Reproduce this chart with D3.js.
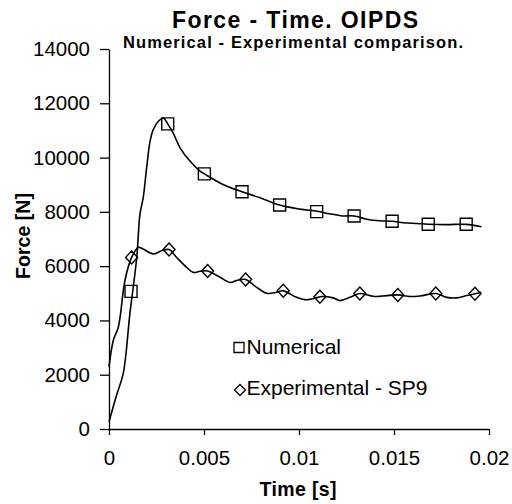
<!DOCTYPE html>
<html>
<head>
<meta charset="utf-8">
<script src="https://cdn.jsdelivr.net/npm/d3@7"></script>
<style>
  body { margin: 0; background: #fff; }
  text { font-family: "Liberation Sans", Arial, sans-serif; fill: #000; }
</style>
</head>
<body>
<div id="chart"></div>
<script>
// time in ms, force in N
var numCurveT = [0, 0.4, 0.75, 1.1, 1.46, 1.63, 1.8, 1.98, 2.16, 2.33, 2.6, 2.86, 3.09, 3.38, 3.74, 4.26, 4.79, 5.02, 6.0, 7.0, 7.95, 8.98, 10.05, 10.96, 11.6, 12.3, 12.9, 13.56, 14.26, 14.9, 15.5, 16.2, 16.8, 17.77, 18.8, 19.6]
var numCurveF = [270, 1250, 2050, 4250, 6320, 7920, 8520, 9620, 10600, 11030, 11340, 11460, 11240, 10900, 10360, 9870, 9500, 9400, 9010, 8740, 8520, 8250, 8100, 8020, 7930, 7850, 7850, 7730, 7670, 7655, 7600, 7570, 7545, 7530, 7540, 7450]

var expCurveT = [0, 0.23, 0.49, 0.84, 1.19, 1.54, 1.8, 2.33, 2.77, 3.16, 3.56, 4.09, 4.44, 4.79, 5.19, 5.84, 6.37, 6.72, 7.19, 7.77, 8.3, 8.83, 9.17, 9.88, 10.4, 11.0, 11.17, 11.8, 12.16, 12.68, 13.2, 13.74, 14.09, 14.6, 15.2, 15.84, 16.37, 17.2, 17.77, 18.3, 18.83, 19.26, 19.6]
var expCurveF = [2290, 3270, 3750, 5470, 6320, 6690, 6630, 6450, 6570, 6610, 6320, 5950, 5770, 5810, 5820, 5590, 5400, 5470, 5510, 5220, 5000, 5040, 5090, 4850, 4760, 4850, 4880, 4830, 4730, 4850, 4990, 4915, 4880, 4915, 4940, 4880, 4900, 4990, 4850, 4830, 4915, 4980, 5040]

var numMarkT = [1.16, 3.09, 5.02, 7.0, 8.98, 10.93, 12.9, 14.9, 16.8, 18.8]
var numMarkF = [5070, 11240, 9400, 8740, 8250, 8010, 7850, 7655, 7545, 7545]

var expMarkT = [1.19, 3.16, 5.19, 7.19, 9.17, 11.1, 13.2, 15.2, 17.2, 19.26]
var expMarkF = [6320, 6610, 5820, 5510, 5090, 4870, 4990, 4940, 4990, 4980]

var xTicks = [0, 0.005, 0.01, 0.015, 0.02]
var xTickLabels = ["0", "0.005", "0.01", "0.015", "0.02"]
var yTicks = [0, 2000, 4000, 6000, 8000, 10000, 12000, 14000]

var legendLabels = ["Numerical", "Experimental - SP9"]

function pairs(ts, fs) {
    return ts.map(function (t, i) { return { x: t / 1000, y: fs[i] } })
}

var margin = { top: 49, right: 23, bottom: 75, left: 109 },
    width = 512 - margin.left - margin.right,
    height = 504 - margin.top - margin.bottom

var root = d3.select("#chart")
    .append("svg")
    .attr("width", 512)
    .attr("height", 504)

var svg = root.append("g")
    .attr("transform", "translate(" + margin.left + "," + margin.top + ")")

var x = d3.scaleLinear().domain([0, 0.02]).range([0, width])
var y = d3.scaleLinear().domain([0, 14000]).range([height, 0])

// axes
var yAxis = d3.axisLeft(y).tickValues(yTicks).tickFormat(d3.format("d"))
    .tickSize(9).tickSizeOuter(0).tickPadding(10)
var xAxis = d3.axisBottom(x).tickValues(xTicks)
    .tickFormat(function (d, i) { return xTickLabels[i] })
    .tickSize(6).tickSizeOuter(0).tickPadding(15)

var gy = svg.append("g").call(yAxis)
var gx = svg.append("g").attr("transform", "translate(0," + height + ")").call(xAxis)

root.selectAll(".domain, .tick line").attr("stroke", "#000").attr("stroke-width", 1.3)
root.selectAll(".tick text")
    .style("font-family", '"Liberation Sans", Arial, sans-serif')
    .style("font-size", "20.5px")
    .attr("fill", "#000")

// curves
var line = d3.line()
    .x(function (d) { return x(d.x) })
    .y(function (d) { return y(d.y) })
    .curve(d3.curveCatmullRom.alpha(0.5))

svg.append("path")
    .datum(pairs(numCurveT, numCurveF))
    .attr("d", line)
    .attr("fill", "none")
    .attr("stroke", "#000")
    .attr("stroke-width", 1.6)

svg.append("path")
    .datum(pairs(expCurveT, expCurveF))
    .attr("d", line)
    .attr("fill", "none")
    .attr("stroke", "#000")
    .attr("stroke-width", 1.6)

// markers
function square(s) { return "M" + (-s) + "," + (-s) + "h" + (2 * s) + "v" + (2 * s) + "h" + (-2 * s) + "Z" }
function diamond(w, h) { return "M0," + (-h) + "L" + w + ",0L0," + h + "L" + (-w) + ",0Z" }

svg.selectAll(".sq")
    .data(pairs(numMarkT, numMarkF))
    .enter().append("path")
    .attr("class", "sq")
    .attr("transform", function (d) { return "translate(" + x(d.x) + "," + y(d.y) + ")" })
    .attr("d", square(6))
    .attr("fill", "none")
    .attr("stroke", "#000")
    .attr("stroke-width", 1.4)

svg.selectAll(".dm")
    .data(pairs(expMarkT, expMarkF))
    .enter().append("path")
    .attr("class", "dm")
    .attr("transform", function (d) { return "translate(" + x(d.x) + "," + y(d.y) + ")" })
    .attr("d", diamond(6, 6.5))
    .attr("fill", "none")
    .attr("stroke", "#000")
    .attr("stroke-width", 1.4)

// legend
var legend = root.append("g")
legend.append("path").attr("transform", "translate(239,347.5)").attr("d", square(5))
    .attr("fill", "none").attr("stroke", "#000").attr("stroke-width", 1.3)
legend.append("path").attr("transform", "translate(240,390)").attr("d", diamond(5.5, 5.5))
    .attr("fill", "none").attr("stroke", "#000").attr("stroke-width", 1.3)
legend.selectAll("text.leg")
    .data(legendLabels)
    .enter().append("text")
    .attr("class", "leg")
    .attr("x", 246.5)
    .attr("y", function (d, i) { return 353.5 + i * 41 })
    .style("font-size", "21px")
    .text(function (d) { return d })

// titles
root.append("text")
    .attr("x", 295).attr("y", 28)
    .attr("text-anchor", "middle")
    .attr("textLength", 246)
    .style("font-size", "23px").style("font-weight", "bold")
    .text("Force - Time. OIPDS")

root.append("text")
    .attr("x", 293).attr("y", 48)
    .attr("text-anchor", "middle")
    .attr("textLength", 340)
    .style("font-size", "16.5px").style("font-weight", "bold")
    .text("Numerical - Experimental comparison.")

root.append("text")
    .attr("x", 298).attr("y", 496)
    .attr("text-anchor", "middle")
    .attr("textLength", 77)
    .style("font-size", "19.5px").style("font-weight", "bold")
    .text("Time [s]")

root.append("text")
    .attr("transform", "translate(30,236) rotate(-90)")
    .attr("text-anchor", "middle")
    .attr("textLength", 86)
    .style("font-size", "19.5px").style("font-weight", "bold")
    .text("Force [N]")
</script>
</body>
</html>
